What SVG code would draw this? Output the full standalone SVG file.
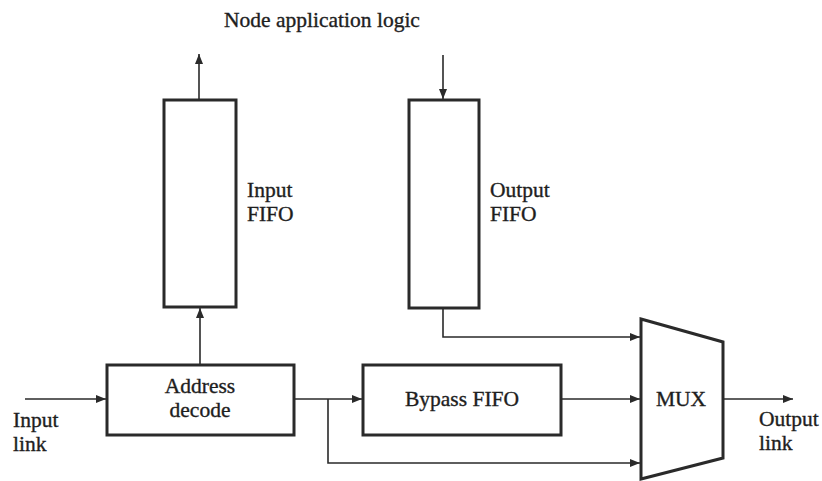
<svg xmlns="http://www.w3.org/2000/svg" width="822" height="481" viewBox="0 0 822 481">
<style>
.box{fill:#fff;stroke:#2a2a2a;stroke-width:3}
.ln{fill:none;stroke:#2a2a2a;stroke-width:1.6}
text{font-family:"Liberation Serif","Times New Roman",serif;font-size:21.5px;fill:#1e1e1e;stroke:#1e1e1e;stroke-width:0.35}
.c{text-anchor:middle}
</style>
<defs>
<marker id="ah" viewBox="0 0 10 8" refX="10" refY="4" markerWidth="10" markerHeight="8" markerUnits="userSpaceOnUse" orient="auto">
<path d="M0,0 L10,4 L0,8 Z" fill="#2a2a2a"/>
</marker>
</defs>
<rect width="822" height="481" fill="#fff"/>
<text class="c" x="322" y="27">Node application logic</text>
<g id="connectors">
<line class="ln" x1="199" y1="100" x2="199" y2="54" marker-end="url(#ah)"/>
<line class="ln" x1="443" y1="55" x2="443" y2="99" marker-end="url(#ah)"/>
<line class="ln" x1="200" y1="365" x2="200" y2="308" marker-end="url(#ah)"/>
<line class="ln" x1="25" y1="399" x2="106" y2="399" marker-end="url(#ah)"/>
<line class="ln" x1="294" y1="399" x2="362" y2="399" marker-end="url(#ah)"/>
<polyline class="ln" points="328,399 328,463 640,463" marker-end="url(#ah)"/>
<polyline class="ln" points="443,308 443,337 640,337" marker-end="url(#ah)"/>
<line class="ln" x1="561" y1="399" x2="640" y2="399" marker-end="url(#ah)"/>
<line class="ln" x1="723" y1="399" x2="793" y2="399" marker-end="url(#ah)"/>
</g>
<g id="input-fifo">
<rect class="box" x="164" y="100" width="72" height="207"/>
<text x="247" y="197">Input</text>
<text x="247" y="221">FIFO</text>
</g>
<g id="output-fifo">
<rect class="box" x="409" y="100" width="70" height="208"/>
<text x="490" y="197">Output</text>
<text x="490" y="221">FIFO</text>
</g>
<g id="address-decode">
<rect class="box" x="107" y="365" width="187" height="70"/>
<text class="c" x="200" y="393">Address</text>
<text class="c" x="200" y="417">decode</text>
</g>
<g id="bypass-fifo">
<rect class="box" x="363" y="365" width="198" height="70"/>
<text class="c" x="462" y="406">Bypass FIFO</text>
</g>
<g id="mux">
<polygon class="box" points="641,319 723,342 723,458 641,479"/>
<text class="c" x="681" y="406">MUX</text>
</g>
<g id="input-link">
<text x="13" y="427">Input</text>
<text x="13" y="451">link</text>
</g>
<g id="output-link">
<text x="759" y="426">Output</text>
<text x="759" y="450">link</text>
</g>
</svg>
